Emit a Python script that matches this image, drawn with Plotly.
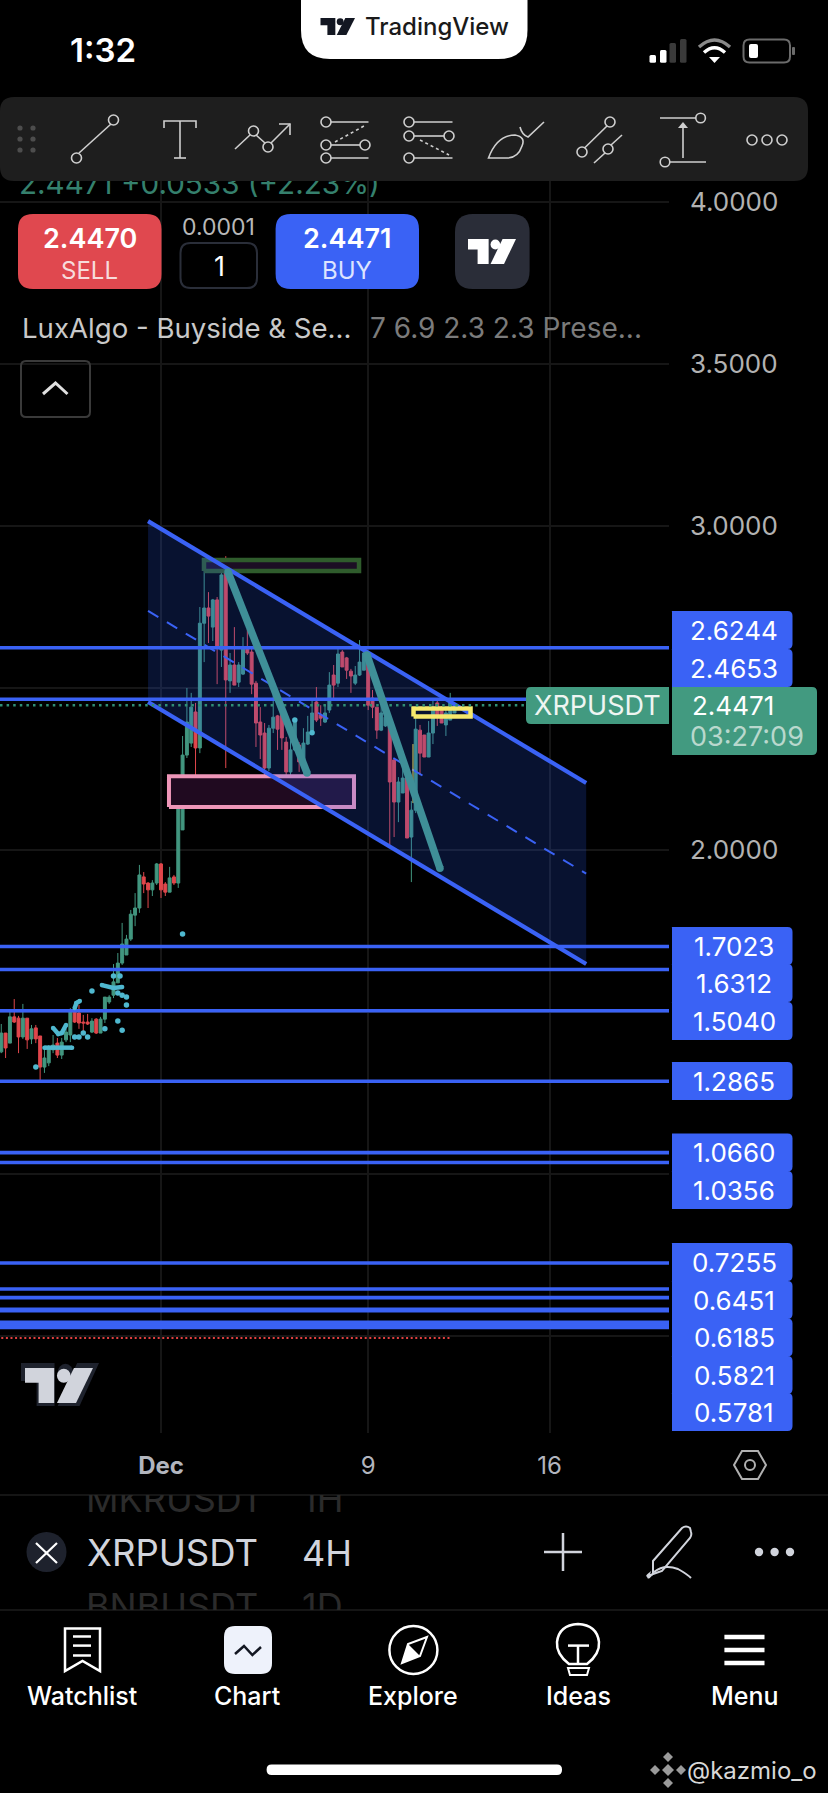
import pandas as pd
import plotly.graph_objects as go

W, H = 828, 1793

# 4H candles, first one is Nov 24 20:00
opens = [1.377, 1.435, 1.404, 1.485, 1.481, 1.423, 1.481, 1.417, 1.451, 1.426, 1.330, 1.343, 1.383, 1.404, 1.367, 1.414,
         1.429, 1.506, 1.497, 1.469, 1.469, 1.438, 1.478, 1.435, 1.478, 1.531, 1.552, 1.590, 1.651, 1.676, 1.725, 1.799,
         1.821, 1.917, 1.898, 1.877, 1.898, 1.957, 1.895, 1.870, 1.917, 1.898, 2.062, 2.293, 2.330, 2.426, 2.315, 2.700,
         2.747, 2.688, 2.772, 2.617, 2.858, 2.522, 2.571, 2.518, 2.543, 2.623, 2.611, 2.515, 2.395, 2.361, 2.253, 2.376,
         2.414, 2.438, 2.333, 2.241, 2.309, 2.324, 2.272, 2.327, 2.358, 2.457, 2.417, 2.395, 2.432, 2.540, 2.515, 2.611,
         2.593, 2.552, 2.515, 2.540, 2.555, 2.605, 2.469, 2.441, 2.370, 2.383, 2.410, 2.278, 2.148, 2.176, 2.225, 2.040,
         2.123, 2.370, 2.355, 2.287, 2.361, 2.454, 2.441, 2.386, 2.401, 2.423]
highs = [1.463, 1.435, 1.509, 1.540, 1.488, 1.525, 1.481, 1.460, 1.460, 1.426, 1.392, 1.398, 1.429, 1.420, 1.420, 1.448,
         1.512, 1.506, 1.522, 1.491, 1.494, 1.481, 1.481, 1.485, 1.546, 1.552, 1.648, 1.682, 1.775, 1.738, 1.815, 1.867,
         1.954, 1.932, 1.901, 1.907, 1.960, 1.960, 1.901, 1.948, 1.923, 2.148, 2.352, 2.500, 2.485, 2.454, 2.750, 2.870,
         2.796, 2.775, 2.781, 2.870, 2.907, 2.608, 2.688, 2.580, 2.657, 2.682, 2.626, 2.522, 2.441, 2.392, 2.386, 2.500,
         2.417, 2.441, 2.349, 2.339, 2.401, 2.333, 2.376, 2.414, 2.463, 2.503, 2.447, 2.447, 2.549, 2.571, 2.620, 2.617,
         2.596, 2.559, 2.568, 2.648, 2.623, 2.608, 2.494, 2.441, 2.457, 2.454, 2.417, 2.281, 2.225, 2.262, 2.225, 2.151,
         2.420, 2.386, 2.355, 2.398, 2.469, 2.463, 2.444, 2.441, 2.485, 2.454]
lows = [1.373, 1.358, 1.404, 1.466, 1.373, 1.417, 1.386, 1.401, 1.404, 1.284, 1.312, 1.333, 1.373, 1.358, 1.355, 1.407,
        1.407, 1.466, 1.448, 1.438, 1.460, 1.435, 1.432, 1.435, 1.466, 1.525, 1.543, 1.590, 1.645, 1.676, 1.719, 1.765,
        1.806, 1.867, 1.821, 1.858, 1.892, 1.852, 1.858, 1.870, 1.892, 1.883, 2.062, 2.284, 2.318, 2.204, 2.299, 2.580,
        2.639, 2.645, 2.512, 2.565, 2.253, 2.485, 2.509, 2.503, 2.540, 2.602, 2.481, 2.318, 2.281, 2.176, 2.244, 2.361,
        2.309, 2.309, 2.210, 2.228, 2.306, 2.241, 2.272, 2.324, 2.355, 2.395, 2.383, 2.392, 2.423, 2.469, 2.503, 2.565,
        2.528, 2.485, 2.509, 2.537, 2.555, 2.432, 2.407, 2.343, 2.367, 2.380, 2.006, 2.040, 2.086, 2.176, 2.037, 1.901,
        2.114, 2.231, 2.287, 2.287, 2.327, 2.383, 2.392, 2.352, 2.401, 2.423]
closes = [1.435, 1.389, 1.485, 1.469, 1.423, 1.481, 1.414, 1.448, 1.417, 1.330, 1.358, 1.392, 1.398, 1.367, 1.407, 1.438,
          1.506, 1.469, 1.466, 1.466, 1.463, 1.472, 1.435, 1.478, 1.546, 1.546, 1.593, 1.651, 1.710, 1.725, 1.802, 1.821,
          1.923, 1.895, 1.877, 1.898, 1.957, 1.877, 1.870, 1.914, 1.898, 2.130, 2.293, 2.395, 2.441, 2.315, 2.700, 2.747,
          2.722, 2.772, 2.626, 2.849, 2.525, 2.571, 2.509, 2.571, 2.626, 2.608, 2.512, 2.392, 2.355, 2.253, 2.376, 2.410,
          2.373, 2.346, 2.241, 2.309, 2.401, 2.272, 2.330, 2.364, 2.423, 2.401, 2.407, 2.423, 2.509, 2.509, 2.605, 2.565,
          2.555, 2.537, 2.540, 2.580, 2.608, 2.447, 2.441, 2.370, 2.423, 2.410, 2.210, 2.148, 2.210, 2.222, 2.037, 2.123,
          2.373, 2.299, 2.287, 2.361, 2.441, 2.417, 2.392, 2.423, 2.454, 2.4471]

levels = [2.6244, 2.4653, 1.7023, 1.6312, 1.5040, 1.2865, 1.0660, 1.0356, 0.7255, 0.6451, 0.6185, 0.5821, 0.5781]
extra_levels = [0.542, 0.534, 0.5262]  # band under the last label, its tags are off screen
level_label_rows = [630, 668, 946, 983, 1021, 1081, 1152.5, 1190, 1262, 1300, 1337.5, 1375, 1412]
last_price = 2.4471
red_line_price = 0.494

y_ticks = [4.0, 3.5, 3.0, 2.5, 2.0, 1.5, 1.0, 0.5]
y_tick_text = ["4.0000", "3.5000", "3.0000", "", "2.0000", "", "", ""]  # the rest sit behind the price tags
x_ticks = ["2024-12-01", "2024-12-09", "2024-12-16"]
x_tick_text = ["<b>Dec</b>", "9", "16"]

# drawings
channel_x = ["2024-11-30 12:00", "2024-12-17 10:00"]
channel_top = [3.015, 2.207]
channel_mid = [2.738, 1.927]
channel_bottom = [2.457, 1.648]
pink_x = ["2024-12-01 07:24", "2024-12-08 10:50"]
pink_y = [2.133, 2.228]
green_x = ["2024-12-02 15:50", "2024-12-08 15:30"]
green_y = [2.861, 2.895]
yellow_x = ["2024-12-10 18:00", "2024-12-12 22:50"]
yellow_y = [2.412, 2.437]
yellow_wick_x = ["2024-12-10 17:30", "2024-12-10 17:30"]
yellow_wick_y = [2.145, 2.327]
teal1_x = ["2024-12-03 14:05", "2024-12-06 15:20"]
teal1_y = [2.858, 2.238]
teal2_x = ["2024-12-08 22:50", "2024-12-11 18:30"]
teal2_y = [2.602, 1.944]

# indicator dots and blobs, x is a candle number
dot_idx = [42, 21, 8, 17, 18, 19, 20, 24, 27, 28, 29, 29, 28, 27, 26, 27.5, 68, 72]
dot_price = [1.741, 1.565, 1.330, 1.423, 1.423, 1.435, 1.423, 1.448, 1.472, 1.444, 1.522, 1.546, 1.552, 1.559, 1.611,
             1.611, 2.401, 2.362]
blob_idx = [[10, 16.4], [12, 13.2, 14, 15], [17, 17.4, 18.2], [23.3, 26, 28]]
blob_price = [[1.390, 1.390], [1.451, 1.432, 1.435, 1.460], [1.512, 1.528, 1.534], [1.583, 1.574, 1.577]]

BLUE = "#3a62f5"
GREEN = "#42967f"
RED = "#e0474c"
TEAL = "#3f8f98"
CYAN = "#4fb8cf"
FONT = "Inter"

times = pd.date_range("2024-11-24 20:00", periods=len(opens), freq="4h")
x_left = "2024-11-24 18:49"
x_right = "2024-12-20 14:44"


def at(i):
    return times[0] + pd.Timedelta(hours=4 * i)


def box_xy(xs, ys):
    return [xs[0], xs[1], xs[1], xs[0], xs[0]], [ys[0], ys[0], ys[1], ys[1], ys[0]]


fig = go.Figure()


def line_trace(x, y, color, width, dash=None, mode="lines", fill=None, fillcolor=None, msize=0):
    fig.add_trace(go.Scatter(x=x, y=y, mode=mode, fill=fill, fillcolor=fillcolor,
                             line=dict(color=color, width=width, dash=dash),
                             marker=dict(color=color, size=msize),
                             showlegend=False, hoverinfo="skip"))


# under the candles
x, y = box_xy(pink_x, pink_y)
line_trace(x, y, "#ee96b8", 4, fill="toself", fillcolor="rgb(32,10,32)")
x, y = box_xy(green_x, green_y)
line_trace(x, y, "#2f5c2c", 4.5, fill="toself", fillcolor="rgb(28,14,36)")
line_trace([channel_x[0], channel_x[1], channel_x[1], channel_x[0]],
           [channel_top[0], channel_top[1], channel_bottom[1], channel_bottom[0]],
           "rgba(0,0,0,0)", 0, fill="toself", fillcolor="rgba(41,98,255,0.19)")
line_trace(channel_x, channel_top, BLUE, 4.2)
line_trace(channel_x, channel_bottom, BLUE, 4.2)
line_trace(channel_x, channel_mid, BLUE, 2, dash="12px,10px")
x, y = box_xy(yellow_x, yellow_y)
line_trace(x, y, "#f6e86c", 4.5)
line_trace(yellow_wick_x, yellow_wick_y, "#d9cc60", 1)

for lv in levels + extra_levels:
    line_trace([x_left, x_right], [lv, lv], BLUE, 3.6)
line_trace([x_left, x_right], [last_price, last_price], "#2f8f75", 2.5, dash="2.5px,4.1px")
line_trace([at(0), at(104)], [red_line_price, red_line_price], "#e04040", 2, dash="2px,2.6px")

fig.add_trace(go.Candlestick(x=times, open=opens, high=highs, low=lows, close=closes, whiskerwidth=0,
                             increasing=dict(line=dict(color=GREEN, width=1), fillcolor=GREEN),
                             decreasing=dict(line=dict(color=RED, width=1), fillcolor=RED),
                             showlegend=False, hoverinfo="skip"))

line_trace(teal1_x, teal1_y, TEAL, 7.5, mode="lines+markers", msize=7.5)
line_trace(teal2_x, teal2_y, TEAL, 7.5, mode="lines+markers", msize=7.5)
for bi, bp in zip(blob_idx, blob_price):
    line_trace([at(i) for i in bi], bp, CYAN, 4.5, mode="lines+markers", msize=4.5)
fig.add_trace(go.Scatter(x=[at(i) for i in dot_idx], y=dot_price, mode="markers",
                         marker=dict(color=CYAN, size=5.5), showlegend=False, hoverinfo="skip"))

# text that gets cut off by the bars sits in a trace, so the shapes can cover it
fig.add_trace(go.Scatter(x=[19, 86, 302, 86, 302], y=[187, 1503, 1503, 1610, 1610], xaxis="x2", yaxis="y2",
                         mode="text", textposition="middle right", showlegend=False, hoverinfo="skip",
                         text=["2.4471 +0.0533 (+2.23%)", "MKRUSDT", "1H", "BNBUSDT", "1D"],
                         textfont=dict(family=FONT, size=[29.6, 36, 36, 36, 36],
                                       color=["#35806d", "#2b2b2b", "#2b2b2b", "#2b2b2b", "#2b2b2b"])))

# ---- app chrome, in page pixels on the hidden second axes ----
shapes = []
notes = []


def path(d, fill=None, line=None, w=0):
    shapes.append(dict(type="path", path=d, xref="x2", yref="y2", layer="above",
                       fillcolor=fill or "rgba(0,0,0,0)",
                       line=dict(color=line or "rgba(0,0,0,0)", width=w)))


def rr(x0, y0, x1, y1, r=0, rl=None):
    rl = r if rl is None else rl
    return (f"M{x0 + rl},{y0} L{x1 - r},{y0} Q{x1},{y0} {x1},{y0 + r} L{x1},{y1 - r} Q{x1},{y1} {x1 - r},{y1} "
            f"L{x0 + rl},{y1} Q{x0},{y1} {x0},{y1 - rl} L{x0},{y0 + rl} Q{x0},{y0} {x0 + rl},{y0} Z")


def circle(cx, cy, r, fill=None, line=None, w=0):
    shapes.append(dict(type="circle", x0=cx - r, x1=cx + r, y0=cy - r, y1=cy + r, xref="x2", yref="y2", layer="above",
                       fillcolor=fill or "rgba(0,0,0,0)", line=dict(color=line or "rgba(0,0,0,0)", width=w)))


def poly(pts, line=None, w=0, fill=None, close=False):
    d = "M" + " L".join(f"{a},{b}" for a, b in pts) + (" Z" if close else "")
    path(d, fill=fill, line=line, w=w)


def text(x, y, s, size=26, color="white", anchor="center", weight=None):
    notes.append(dict(x=x, y=y, xref="x2", yref="y2", text=s, showarrow=False, xanchor=anchor, yanchor="middle",
                      font=dict(family=FONT, size=size, color=color, weight=weight)))


def tv_logo(x, y, w, h, color):
    poly([(x, y), (x + .43 * w, y), (x + .43 * w, y + h), (x + .2 * w, y + h), (x + .2 * w, y + .42 * h),
          (x, y + .42 * h)], fill=color, close=True)
    shapes.append(dict(type="circle", x0=x + .47 * w, x1=x + .67 * w, y0=y + .02 * h, y1=y + .42 * h, xref="x2",
                       yref="y2", layer="above", fillcolor=color, line=dict(width=0)))
    poly([(x + .72 * w, y), (x + w, y), (x + .75 * w, y + h), (x + .47 * w, y + h)], fill=color, close=True)


ICON = "#cfcfcf"

# top
path(f"M301,0 L527.5,0 L527.5,30 Q527.5,59 498,59 L330,59 Q301,59 301,30 Z", fill="white")
tv_logo(320.5, 18, 34.5, 17, "#131722")
text(363, 26, "TradingView", size=24, color="#1a1a1a", anchor="left", weight=500)
text(103, 50, "1:32", size=33, color="white", weight=600)
for bx, by, col in [(649.5, 55, "white"), (660, 50, "white"), (669.5, 43, "#3a3a3a"), (680, 39, "#3a3a3a")]:
    path(rr(bx, by, bx + 6.5, 62.7, 1.5), fill=col)
path("M699,47 Q714.5,33 730,47", line="#8a8a8a", w=3.4)
path("M704,52.5 Q714.5,43 725,52.5", line="white", w=3.4)
poly([(709, 57), (720, 57), (714.5, 63)], fill="white", close=True)
path(rr(743.5, 39.5, 790, 62.5, 6), line="#6b6b6b", w=2)
path(rr(749, 44, 758, 58, 2), fill="white")
path(rr(792, 47, 795, 55, 1), fill="#6b6b6b")

# drawing toolbar
path(rr(0, 97, 808, 181, 14), fill="#1e1e1e")
for dx in (20, 33):
    for dy in (128, 139, 150):
        circle(dx, dy, 2.6, fill="#4d4d4d")
poly([(79, 153), (111, 124)], line=ICON, w=1.6)
circle(113.5, 120, 5, line=ICON, w=1.6)
circle(76.5, 158, 5, line=ICON, w=1.6)
poly([(164, 128), (164, 121), (196, 121), (196, 128)], line=ICON, w=1.6)
poly([(180, 121), (180, 158)], line=ICON, w=1.6)
poly([(174, 158), (186, 158)], line=ICON, w=1.6)
poly([(235, 149), (250, 135)], line=ICON, w=1.6)
poly([(256, 135), (265, 143)], line=ICON, w=1.6)
poly([(271, 143), (290, 124)], line=ICON, w=1.6)
poly([(279, 124), (290, 124), (290, 135)], line=ICON, w=1.6)
circle(253.5, 131, 5, line=ICON, w=1.6)
circle(268, 147, 5, line=ICON, w=1.6)
poly([(331, 122), (368.5, 122)], line=ICON, w=1.6)
poly([(331, 145), (360, 145)], line=ICON, w=1.6)
poly([(331, 158), (368.5, 158)], line=ICON, w=1.6)
for cx, cy in [(326, 122), (326, 145), (365, 145), (326, 158)]:
    circle(cx, cy, 5, line=ICON, w=1.6)
shapes.append(dict(type="line", x0=335, y0=142, x1=364, y1=126, xref="x2", yref="y2", layer="above",
                   line=dict(color=ICON, width=1.6, dash="dot")))
poly([(414, 122), (452.5, 122)], line=ICON, w=1.6)
poly([(414, 136), (444, 136)], line=ICON, w=1.6)
poly([(414, 158), (452.5, 158)], line=ICON, w=1.6)
for cx, cy in [(409, 122), (409, 136), (449, 136), (409, 158)]:
    circle(cx, cy, 5, line=ICON, w=1.6)
shapes.append(dict(type="line", x0=420, y0=140, x1=449, y1=155, xref="x2", yref="y2", layer="above",
                   line=dict(color=ICON, width=1.6, dash="dot")))
path("M488.5,158 Q497,135 515,135 Q526,137 522,146 Q518,158 507,158 Z", line=ICON, w=1.6)
path("M520,127 Q522,135 528,137 L544,122", line=ICON, w=1.6)
poly([(584.5, 148), (607, 126)], line=ICON, w=1.6)
circle(610, 122, 5, line=ICON, w=1.6)
circle(582, 152, 5, line=ICON, w=1.6)
poly([(594, 163), (605, 153)], line=ICON, w=1.6)
poly([(611, 145), (622, 135)], line=ICON, w=1.6)
circle(608, 149, 5, line=ICON, w=1.6)
poly([(660, 118), (696, 118)], line=ICON, w=1.6)
circle(700.6, 118, 4.8, line=ICON, w=1.6)
poly([(670, 162), (706, 162)], line=ICON, w=1.6)
circle(665, 162, 4.8, line=ICON, w=1.6)
poly([(683, 158), (683, 126)], line=ICON, w=1.6)
poly([(678, 128), (683, 122), (688, 128)], fill=ICON, close=True)
for cx in (752, 767, 782):
    circle(cx, 140, 5, line=ICON, w=1.6)

# trade buttons
path(rr(18, 214, 161.5, 289, 15), fill="#e0484f")
text(90, 238, "2.4470", size=27, weight=600)
text(89.5, 270, "SELL", size=24, color="#f7dcdc")
text(218, 227, "0.0001", size=23, color="#b8b8b8")
path(rr(180.5, 243, 257, 288, 10), line="#2a2e39", w=2)
text(219, 266, "1", size=27)
path(rr(275.6, 214, 419, 289, 15), fill=BLUE)
text(347, 238, "2.4471", size=27, weight=600)
text(347, 270, "BUY", size=24, color="#dde4ff")
path(rr(455, 214, 529.6, 289, 18), fill="#2a2d38")
tv_logo(468, 239, 48, 25, "white")

text(20, 328, "LuxAlgo - Buyside &amp; Se...", size=27.6, color="#c9c9c9", anchor="left")
text(368, 328, "7 6.9 2.3 2.3 Prese...", size=28, color="#7b7b7b", anchor="left")
path(rr(21, 361, 90, 417, 5), line="#3a3a3a", w=2)
poly([(43, 394), (55.5, 383), (67.5, 394)], line="#e0e0e0", w=3)

# price tags
for row, lv in zip(level_label_rows, levels):
    path(rr(672, row - 18.9, 792.5, row + 18.9, 5, 0.1), fill=BLUE)
    text(734, row, f"{lv:.4f}")
path(rr(526, 687, 669, 724, 0.1, 5), fill="#429a80")
text(597, 705.5, "XRPUSDT", size=27, color="#eef5f2")
path(rr(672, 687, 817, 755, 5, 0.1), fill="#429a80")
text(690, 705.5, f"{last_price:.4f}", anchor="left")
text(747, 736, "03:27:09", size=27, color="#b9d8cd")

# chart watermark
tv_logo(21, 1363, 78, 43, "#1e222d")
tv_logo(25, 1368, 68, 35, "#d1d4dc")

# settings hexagon next to the time scale
poly([(734, 1465), (742, 1451), (758, 1451), (766, 1465), (758, 1479), (742, 1479)], line="#b0b0b0", w=2, close=True)
circle(750, 1465, 5, line="#b0b0b0", w=2)

# symbol bar, black strips hide the tops and bottoms of the rows that scroll past
path(rr(0, 1480, 828, 1495, 0), fill="#000000")
poly([(0, 1495), (828, 1495)], line="#2a2a2a", w=1.2)
path(rr(0, 1610, 828, 1793, 0), fill="#000000")
poly([(0, 1610), (828, 1610)], line="#2a2a2a", w=1.2)
circle(46.5, 1552, 20, fill="#1e222d")
poly([(36, 1543), (46.5, 1553), (57, 1543)], line="white", w=2.2)
poly([(36, 1563), (46.5, 1553), (57, 1563)], line="white", w=2.2)
text(85, 1552.5, "XRPUSDT", size=36.5, color="#d1d4dc", anchor="left")
text(300, 1552.5, "4H", size=36, color="#d1d4dc", anchor="left")
poly([(544, 1552), (582, 1552)], line="#d1d4dc", w=2.5)
poly([(563, 1533), (563, 1571)], line="#d1d4dc", w=2.5)
path("M653,1561 L682,1528 Q686,1525 690,1528 L691,1532 Q692,1535 690,1538 L662,1571 L653,1574 Z", line="#d1d4dc", w=2)
path("M653,1574 Q644,1578 649,1574 Q646,1582 654,1572 Q664,1564 678,1569 Q687,1574 691,1578", line="#d1d4dc", w=2)
for cx in (759, 774.6, 790):
    circle(cx, 1552, 4.2, fill="#d1d4dc")

# nav bar
poly([(65, 1628.5), (100, 1628.5), (100, 1671), (82.5, 1661), (65, 1671)], line="white", w=2.5, close=True)
for ly in (1636.5, 1645.6, 1655.5):
    poly([(73, ly), (91, ly)], line="white", w=2.5)
path(rr(224, 1626, 272, 1674, 11), fill="#eef2fb")
poly([(235, 1654), (244, 1646), (252.4, 1655), (261, 1647)], line="#131722", w=2.5)
circle(413.4, 1650, 24, line="white", w=2.5)
poly([(427, 1637), (420, 1656), (402, 1663), (408, 1644)], line="white", w=2, close=True)
poly([(402, 1663), (420, 1656), (408, 1644)], fill="white", close=True)
path("M569,1664 Q556,1654 557,1642 Q559,1625 578,1624 Q597,1625 599,1642 Q600,1654 587,1664 Z", line="white", w=2.5)
poly([(568, 1645.6), (589, 1645.6)], line="white", w=2.5)
poly([(578, 1645.6), (578, 1664)], line="white", w=2.5)
poly([(568, 1668), (589, 1668), (587, 1675), (570, 1675)], line="white", w=2, close=True)
for ly in (1637, 1650, 1663):
    poly([(724.4, ly), (764.5, ly)], line="white", w=4.5)
for cx, s in [(82, "Watchlist"), (247, "Chart"), (413, "Explore"), (578, "Ideas"), (744.5, "Menu")]:
    text(cx, 1696, s, size=25, weight=500)

path(rr(266.6, 1764.5, 562, 1775, 5), fill="white")
for cx, cy, r in [(668, 1770, 6), (668, 1757, 5), (668, 1783, 5), (655, 1770, 5), (681, 1770, 5)]:
    poly([(cx - r, cy), (cx, cy - r), (cx + r, cy), (cx, cy + r)], fill="#9a9a9a", close=True)
text(685, 1770, "@kazmio_o", size=24, color="#d8d8d8", anchor="left")

fig.update_layout(
    width=W, height=H, margin=dict(l=0, r=0, t=0, b=0),
    paper_bgcolor="black", plot_bgcolor="rgba(0,0,0,0)", showlegend=False, dragmode=False,
    boxgap=0.2, boxgroupgap=0.15,
    shapes=shapes, annotations=notes,
    xaxis=dict(domain=[0, 669 / W], range=[x_left, x_right], type="date", rangeslider=dict(visible=False),
               tickvals=x_ticks, ticktext=x_tick_text, tickfont=dict(family=FONT, size=24, color="#b2b5be"),
               gridcolor="#161616", gridwidth=1.5, showline=False, zeroline=False, ticks="",
               ticklabelstandoff=16),
    yaxis=dict(domain=[1 - 1433 / H, 1 - 180 / H], range=[0.2006, 4.068], side="right", tickvals=y_ticks,
               ticktext=y_tick_text, tickfont=dict(family=FONT, size=26, color="#b2b2b2"), gridcolor="#161616",
               gridwidth=1.5, showline=False, zeroline=False, ticks="", ticklabelstandoff=20),
    xaxis2=dict(domain=[0, 1], range=[0, W], anchor="y2", visible=False, fixedrange=True),
    yaxis2=dict(domain=[0, 1], range=[H, 0], anchor="x2", visible=False, fixedrange=True),
)

fig.write_html("out.html", config=dict(displayModeBar=False),
               post_script="document.body.style.margin='0';document.body.style.overflow='hidden';")
